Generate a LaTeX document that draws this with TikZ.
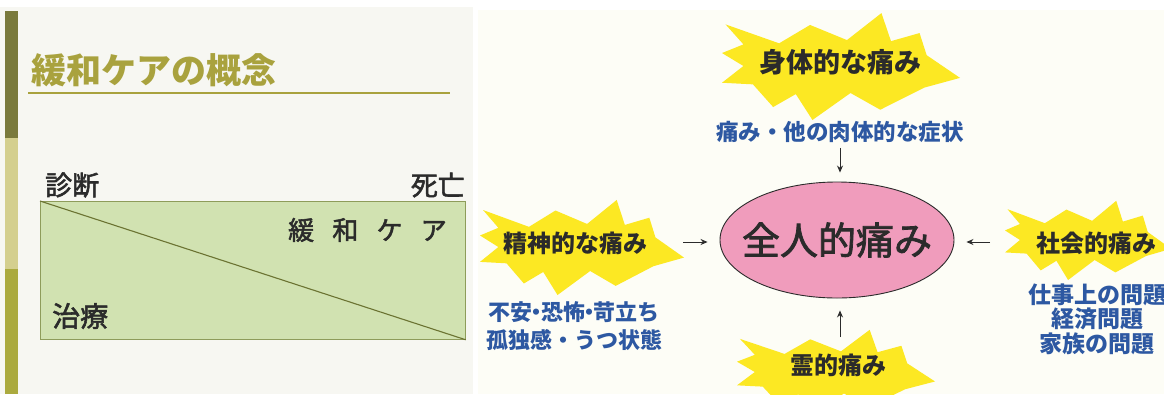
\documentclass[tikz,border=0pt]{standalone}
\usepackage{fontspec}
\newfontfamily\jp{Noto Sans CJK JP}
\newfontfamily\jpm[FakeBold=2]{Noto Sans CJK JP}
\usetikzlibrary{arrows.meta,shapes.geometric}
\definecolor{leftbg}{HTML}{F7F7F2}
\definecolor{rightbg}{HTML}{FDFDF6}
\definecolor{bardark}{HTML}{7A7A3C}
\definecolor{barlight}{HTML}{D4CF8E}
\definecolor{barolive}{HTML}{ABAA3E}
\definecolor{titleol}{HTML}{A9A23E}
\definecolor{rectfill}{HTML}{D1E2B1}
\definecolor{rectline}{HTML}{8E9C5A}
\definecolor{diagline}{HTML}{6B7332}
\definecolor{burst}{HTML}{FCE823}
\definecolor{pinkfill}{HTML}{F09CBC}
\definecolor{bluetxt}{HTML}{2D58A2}
\definecolor{darktxt}{HTML}{2B2B2B}
\newcommand\burstshape[5]{% name, cx, cy, hw, hh
  \begin{scope}[shift={(#2,#3)}, xscale=#4, yscale=-#5]
    \fill[burst] (-0.97,0.77) -- (-0.52,0.42) -- (-0.26,0.76) -- (0.05,0.48)
      -- (0.34,0.98) -- (0.42,0.46) -- (0.66,0.61) -- (0.72,0.2)
      -- (1.0,-0.22) -- (0.7,-0.4) -- (0.33,-0.81) -- (0.08,-0.5)
      -- (-0.24,-1.0) -- (-0.38,-0.52) -- (-0.57,-0.76) -- (-0.74,-0.34)
      -- (-1.0,-0.31) -- (-0.82,0.0) -- (-1.0,0.24) -- (-0.82,0.4) -- cycle;
    \coordinate (#1) at (0,0);
  \end{scope}}
\tikzset{
  starlbl/.style={font=\jp\bfseries\fontsize{24}{26}\selectfont, text=darktxt, inner sep=0pt},
  desc/.style={font=\jp\bfseries\fontsize{22.5}{28}\selectfont, text=bluetxt, inner sep=0pt, align=center},
  blk/.style={font=\jpm\fontsize{27}{29}\selectfont, text=darktxt, inner sep=0pt},
  arr/.style={draw=darktxt, line width=0.9pt, -{Stealth[length=7pt,width=6pt]}},
}
\begin{document}
\begin{tikzpicture}[x=1pt,y=-1pt]
\useasboundingbox (0,0) rectangle (1164,394);
\fill[white] (0,0) rectangle (1164,394);
% left panel
\fill[leftbg] (0,7) rectangle (473,394);
\fill[bardark] (5,11) rectangle (18,138);
\fill[barlight] (5,138) rectangle (18,269);
\fill[barolive] (5,269) rectangle (18,394);
\node[anchor=west, inner sep=0pt, font=\jp\bfseries\fontsize{35}{37}\selectfont, text=titleol] (title) at (31,70) {緩和ケアの概念};
\draw[titleol, line width=2.5pt] (28,93) -- (450,93);
\node[blk, anchor=west] (diag) at (45,185) {診断};
\node[blk, anchor=east] (death) at (465,185) {死亡};
\node[draw=rectline, fill=rectfill, line width=0.8pt, minimum width=425pt, minimum height=138pt, anchor=north west, inner sep=0pt] (box) at (40,201) {};
\draw[diagline, line width=1.1pt] (box.north west) -- (box.south east);
\node[blk, anchor=east, font=\jpm\fontsize{26}{28}\selectfont] (kanwa) at (447,230) {緩\hspace{0.7em}和\hspace{0.7em}ケ\hspace{0.7em}ア};
\node[blk, anchor=west, font=\jpm\fontsize{28}{30}\selectfont] (chiryo) at (52,316) {治療};
% right panel
\fill[rightbg] (478,10) rectangle (1164,394);
\burstshape{sTop}{841}{66}{119}{54}
\burstshape{sLeft}{582}{247}{102}{48}
\burstshape{sRight}{1088}{240}{83}{40}
\burstshape{sBot}{836}{372}{99}{43}
\node[starlbl, font=\jp\bfseries\fontsize{27}{29}\selectfont] (lTop) at (840,62) {身体的な痛み};
\node[starlbl] (lLeft) at (575,243) {精神的な痛み};
\node[starlbl] (lRight) at (1096,243) {社会的痛み};
\node[starlbl] (lBot) at (838,365) {霊的痛み};
\node[desc] (dTop) at (840,132) {痛み・他の肉体的な症状};
\node[desc, font=\jp\bfseries\fontsize{22}{28}\selectfont] (dLeft) at (574,326) {不安\kern-0.3em・\kern-0.3em恐怖\kern-0.3em・\kern-0.3em苛立ち\\孤独感・うつ状態};
\node[desc, font=\jp\bfseries\fontsize{23}{24.5}\selectfont] (dRight) at (1097,319) {仕事上の問題\\経済問題\\家族の問題};
\node[ellipse, draw=darktxt, line width=0.9pt, fill=pinkfill, minimum width=234pt, minimum height=116pt, inner sep=0pt] (whole) at (837,240) {};
\node[inner sep=0pt, font=\jpm\fontsize{38}{40}\selectfont, text=darktxt] (wholelbl) at (whole.center) {全人的痛み};
\coordinate (ltip) at (683,242);
\coordinate (rtip) at (990,242);
\coordinate (btip) at (840,337);
\draw[arr, shorten <=5pt, shorten >=9pt] (dTop.south) -- (dTop.south |- whole.north);
\draw[arr, shorten >=12pt] (ltip) -- (ltip -| whole.west);
\draw[arr, shorten >=12pt] (rtip) -- (rtip -| whole.east);
\draw[arr, shorten >=12pt] (btip) -- (btip |- whole.south);
\end{tikzpicture}
\end{document}
